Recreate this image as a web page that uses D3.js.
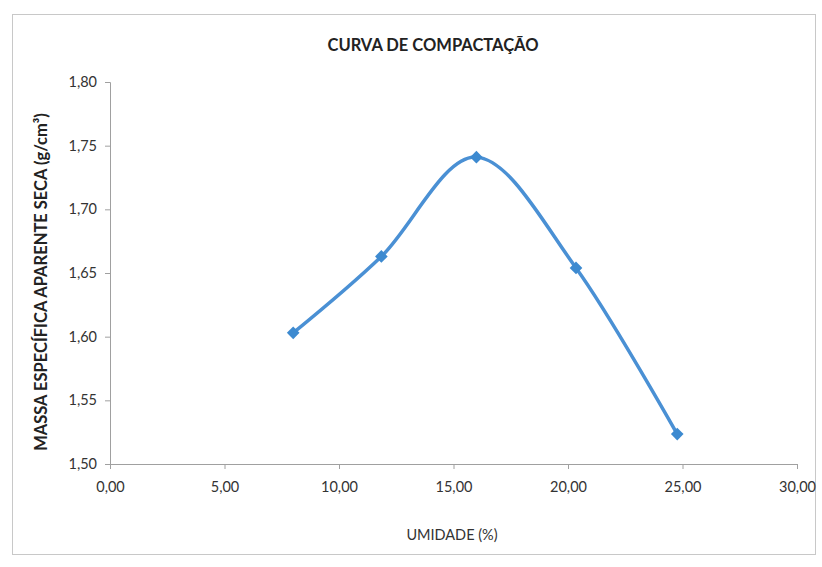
<!DOCTYPE html>
<html><head><meta charset="utf-8">
<script src="https://cdnjs.cloudflare.com/ajax/libs/d3/7.8.5/d3.min.js"></script>
<style>body{margin:0;background:#fff}svg{display:block}</style>
</head><body>
<script>
const umidade = [8.0, 11.85, 16.0, 20.35, 24.77];
const massa = [1.603, 1.663, 1.741, 1.654, 1.5235];
const xTicks = [0, 5, 10, 15, 20, 25, 30];
const yTicks = [1.50, 1.55, 1.60, 1.65, 1.70, 1.75, 1.80];
const title = "CURVA DE COMPACTAÇÃO";
const xLabel = "UMIDADE (%)";
const yLabel = "MASSA ESPECÍFICA APARENTE SECA (g/cm³)";

const W = 822, H = 567;
const m = {l:110, r:25, t:82, b:103};
const font = "Lato, 'Open Sans', sans-serif";
const svg = d3.select("body").append("svg").attr("width", W).attr("height", H);
svg.append("rect").attr("x",12.5).attr("y",14.5).attr("width",803).attr("height",540)
  .attr("fill","#fff").attr("stroke","#c8c8c8").attr("stroke-width",1);

const x = d3.scaleLinear().domain([0,30]).range([m.l, W-m.r]);
const y = d3.scaleLinear().domain([1.5,1.8]).range([H-m.b, m.t]);
const fmt = v => d3.format(".2f")(v).replace(".", ",");

const gx = svg.append("g").attr("transform",`translate(0,${H-m.b})`)
  .call(d3.axisBottom(x).tickValues(xTicks).tickFormat(fmt).tickSize(5).tickPadding(13));
const gy = svg.append("g").attr("transform",`translate(${m.l},0)`)
  .call(d3.axisLeft(y).tickValues(yTicks).tickFormat(fmt).tickSize(5).tickPadding(8));
[gx, gy].forEach(g => {
  g.select(".domain").attr("stroke","#a0a0a0");
  g.selectAll(".tick line").attr("stroke","#a0a0a0");
  g.selectAll(".tick text").attr("fill","#333").style("font-family",font).style("font-size","14.5px");
});

const pts = umidade.map((u,i)=>[u, massa[i]]);
svg.append("path").datum(pts)
  .attr("d", d3.line().x(d=>x(d[0])).y(d=>y(d[1])).curve(d3.curveCatmullRom.alpha(0)))
  .attr("fill","none").attr("stroke","#4a90d4").attr("stroke-width",3.5);
svg.selectAll(".pt").data(pts).enter().append("path")
  .attr("transform", d=>`translate(${x(d[0])},${y(d[1])}) rotate(45)`)
  .attr("d", d3.symbol().type(d3.symbolSquare).size(80))
  .attr("fill","#3d8ad0");

svg.append("text").attr("x",433).attr("y",51).attr("text-anchor","middle")
  .style("font-family",font).style("font-weight","bold").style("font-size","16.5px").attr("fill","#222").text(title);
svg.append("text").attr("x",452).attr("y",540).attr("text-anchor","middle")
  .style("font-family",font).style("font-size","14.5px").attr("fill","#333").text(xLabel);
svg.append("text").attr("transform",`translate(47,282) rotate(-90)`).attr("text-anchor","middle")
  .style("font-family",font).style("font-weight","bold").style("font-size","16.5px").attr("fill","#222").text(yLabel);
</script>
</body></html>
